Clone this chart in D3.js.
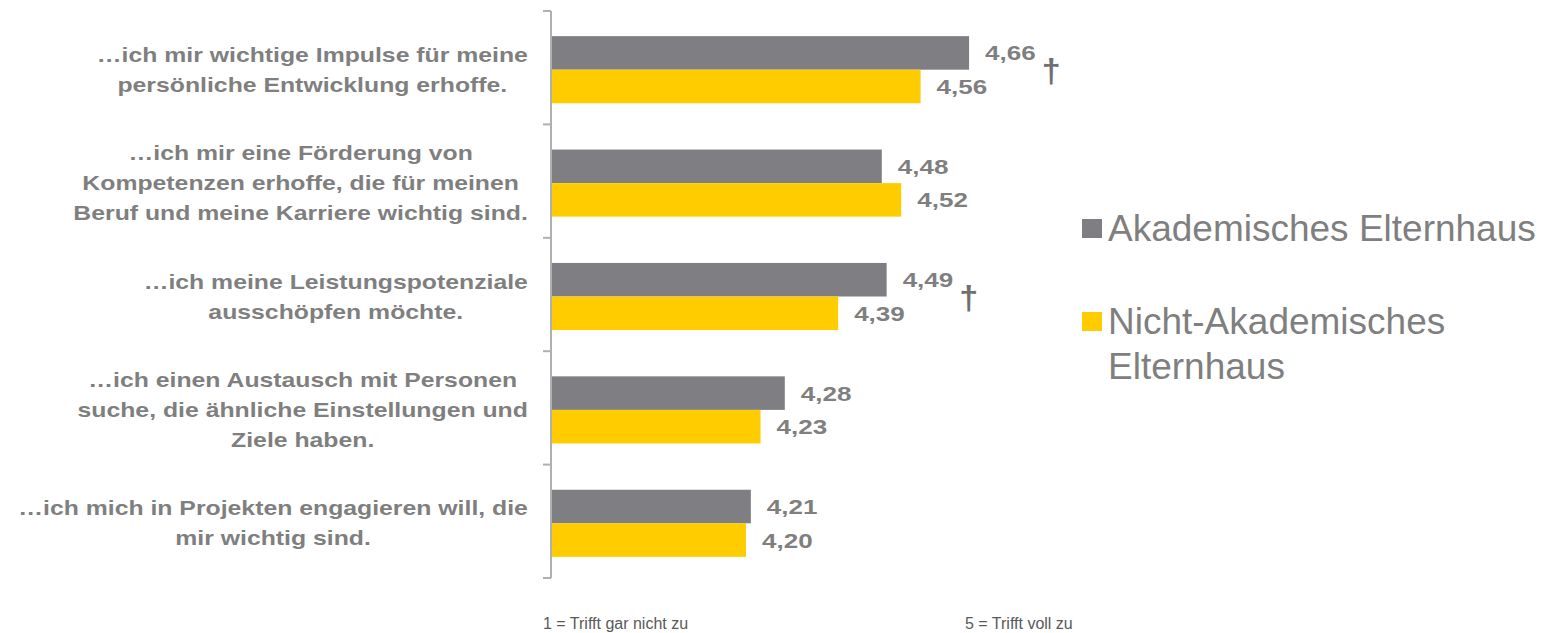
<!DOCTYPE html>
<html>
<head>
<meta charset="utf-8">
<script src="https://cdn.jsdelivr.net/npm/d3@7"></script>
<style>
	body { margin: 0; background: #fff; }
	svg { display: block; }
</style>
</head>
<body>
<svg></svg>
<script>
const size = { w: 1544, h: 633 };
const svg = d3.select("svg").attr("width", size.w).attr("height", size.h);

// data
const categories = ["impulse", "kompetenzen", "leistung", "austausch", "projekte"];
const labelLines = [
	["…ich mir wichtige Impulse für meine", "persönliche Entwicklung erhoffe."],
	["…ich mir eine Förderung von", "Kompetenzen erhoffe, die für meinen", "Beruf und meine Karriere wichtig sind."],
	["…ich meine Leistungspotenziale", "ausschöpfen möchte."],
	["…ich einen Austausch mit Personen", "suche, die ähnliche Einstellungen und", "Ziele haben."],
	["…ich mich in Projekten engagieren will, die", "mir wichtig sind."],
];
const seriesNames = ["Akademisches Elternhaus", "Nicht-Akademisches Elternhaus"];
const akademisch = [4.66, 4.48, 4.49, 4.28, 4.21];
const nichtAkademisch = [4.56, 4.52, 4.39, 4.23, 4.20];
const significant = [true, false, true, false, false];
const scaleNotes = ["1 = Trifft gar nicht zu", "5 = Trifft voll zu"];

const colors = ["#7f7e83", "#ffcc00"];
const textGray = "#7f7f7f";

const x = d3.scaleLinear().domain([3.8, 4.8]).range([552, 1037]);
const y = d3.scaleBand().domain(categories).range([11, 578]);
const yInner = d3.scaleBand().domain(seriesNames).range([0, y.bandwidth()]).paddingOuter(0.69);

const rows = categories.map((c, i) => ({
	cat: c,
	lines: labelLines[i],
	values: [akademisch[i], nichtAkademisch[i]],
	sig: significant[i],
}));

// axis line with ticks at band boundaries
const axisG = svg.append("g").attr("class", "axis");
axisG.append("line")
	.attr("x1", 551).attr("x2", 551)
	.attr("y1", y.range()[0]).attr("y2", y.range()[1])
	.attr("stroke", "#b0b0b0").attr("stroke-width", 2);
const bounds = categories.map((c) => y(c)).concat([y.range()[1]]);
axisG.selectAll("line.tick")
	.data(bounds)
	.enter()
	.append("line")
	.classed("tick", true)
	.attr("x1", 543).attr("x2", 551)
	.attr("y1", (d) => d).attr("y2", (d) => d)
	.attr("stroke", "#b0b0b0").attr("stroke-width", 2);

// bars
const groups = svg.selectAll("g.row")
	.data(rows)
	.enter()
	.append("g")
	.classed("row", true)
	.attr("transform", (d) => `translate(0,${y(d.cat) + 2})`);

groups.selectAll("rect")
	.data((d) => d.values.map((v, j) => ({ v: v, s: seriesNames[j], j: j })))
	.enter()
	.append("rect")
	.attr("x", x(3.8))
	.attr("y", (d) => yInner(d.s))
	.attr("width", (d) => x(d.v) - x(3.8))
	.attr("height", yInner.bandwidth())
	.attr("fill", (d) => colors[d.j]);

// value labels (stretched look of the original)
const sx = 1.24;
groups.selectAll("g.val")
	.data((d) => d.values.map((v, j) => ({ v: v, s: seriesNames[j] })))
	.enter()
	.append("g")
	.classed("val", true)
	.attr("transform", (d) => `translate(${x(d.v) + 16},${yInner(d.s) + yInner.bandwidth() / 2}) scale(${sx},1)`)
	.append("text")
	.attr("dy", "0.36em")
	.attr("font-family", "Liberation Sans, Arial, sans-serif")
	.attr("font-weight", "bold")
	.attr("font-size", 21)
	.attr("fill", textGray)
	.text((d) => d3.format(".2f")(d.v).replace(".", ","));

// significance dagger
groups.filter((d) => d.sig)
	.append("text")
	.attr("x", (d) => x(d3.max(d.values)) + 82)
	.attr("y", y.bandwidth() / 2)
	.attr("dy", "0.36em")
	.attr("text-anchor", "middle")
	.attr("font-family", "Liberation Sans, Arial, sans-serif")
	.attr("font-weight", "bold")
	.attr("font-size", 34)
	.attr("fill", "#6f6f6f")
	.text("†");

// category labels: lines centred inside a block that is right-aligned
const lineH = 30;
const labelRight = 528;
rows.forEach((d) => {
	const g = svg.append("g").classed("cat-label", true);
	const texts = d.lines.map((line, k) => {
		const cy = y(d.cat) + y.bandwidth() / 2 + 2 + (k - (d.lines.length - 1) / 2) * lineH;
		const lg = g.append("g");
		const t = lg.append("text")
			.attr("text-anchor", "middle")
			.attr("dy", "0.35em")
			.attr("font-family", "Liberation Sans, Arial, sans-serif")
			.attr("font-weight", "bold")
			.attr("font-size", 20)
			.attr("fill", textGray)
			.text(line);
		return { lg: lg, t: t, cy: cy };
	});
	const maxW = d3.max(texts, (o) => o.t.node().getComputedTextLength()) * sx;
	texts.forEach((o) => {
		o.lg.attr("transform", `translate(${labelRight - maxW / 2},${o.cy}) scale(${sx},1)`);
	});
});

// legend
const legend = svg.append("g").attr("class", "legend");
const legendItems = [
	{ lines: ["Akademisches Elternhaus"], y: 241 },
	{ lines: ["Nicht-Akademisches", "Elternhaus"], y: 334 },
];
legendItems.forEach((item, i) => {
	legend.append("rect")
		.attr("x", 1082).attr("y", item.y - 22)
		.attr("width", 20).attr("height", 19)
		.attr("fill", colors[i]);
	item.lines.forEach((line, k) => {
		legend.append("text")
			.attr("x", 1108)
			.attr("y", item.y + k * 45)
			.attr("font-family", "Liberation Sans, Arial, sans-serif")
			.attr("font-size", 37)
			.attr("fill", textGray)
			.text(line);
	});
});

// scale notes under the chart
svg.selectAll("text.note")
	.data(scaleNotes)
	.enter()
	.append("text")
	.classed("note", true)
	.attr("x", (d, i) => (i === 0 ? 543 : 965))
	.attr("y", 629)
	.attr("font-family", "Liberation Sans, Arial, sans-serif")
	.attr("font-size", 16)
	.attr("fill", "#595959")
	.text((d) => d);
</script>
</body>
</html>
